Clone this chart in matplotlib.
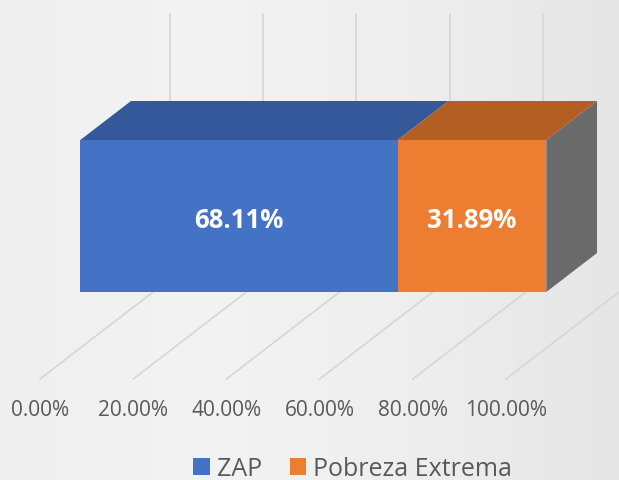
import matplotlib
matplotlib.use("Agg")
import matplotlib.pyplot as plt
import numpy as np
from matplotlib.patches import Polygon, Patch
from matplotlib.colors import LinearSegmentedColormap

# ---- data ----
series = ["ZAP", "Pobreza Extrema"]
values = [68.11, 31.89]
value_labels = ["68.11%", "31.89%"]
tick_values = [0, 20, 40, 60, 80, 100]
tick_labels = ["0.00%", "20.00%", "40.00%", "60.00%", "80.00%", "100.00%"]

# ---- style ----
front_colors = ["#4472C4", "#ED7D31"]
top_colors = ["#34589A", "#B35E22"]
side_color = "#6A6A6A"
grid_color = "#D6D6D6"
text_color = "#595959"
FONT = "Open Sans"

PX = 4.66            # pixels per percent (front plane)
DX = 130 / PX        # full depth offset in x (percent units)
DY = 100             # full depth offset in y (pixel units)
F0, F1 = 0.31, 0.70  # bar depth range (fraction of full depth)
ELEV = 56            # bar bottom above floor (px)
H = 152              # bar height (px)
WALL = 265           # back wall height (px)

fig = plt.figure(figsize=(6.19, 4.81), dpi=100)
ax = fig.add_axes([0, 0, 1, 1])
ax.set_xlim(-40 / PX, (619 - 40) / PX)
ax.set_ylim(380 - 481, 380)
ax.axis("off")

# background
cmap = LinearSegmentedColormap.from_list("bg", ["#EFEFEF", "#F3F3F3", "#EEEEEE", "#E6E6E6"])
grad = np.tile(np.linspace(0, 1, 256), (64, 1))
ax.imshow(grad, cmap=cmap, aspect="auto", extent=(*ax.get_xlim(), *ax.get_ylim()), zorder=0)


def proj(v, d, h):
    return (v + d * DX, d * DY + h)


# gridlines: floor and back wall
for t in tick_values:
    p0, p1 = proj(t, 0, 0), proj(t, 1, 0)
    ax.plot([p0[0], p1[0]], [p0[1], p1[1]], color=grid_color, lw=1.2, zorder=1)
    q0, q1 = proj(t, 1, 0), proj(t, 1, WALL)
    ax.plot([q0[0], q1[0]], [q0[1], q1[1]], color=grid_color, lw=1.2, zorder=1)

# bars
start = 0.0
for i, v in enumerate(values):
    s, e = start, start + v
    front = [proj(s, F0, ELEV), proj(e, F0, ELEV), proj(e, F0, ELEV + H), proj(s, F0, ELEV + H)]
    top = [proj(s, F0, ELEV + H), proj(e, F0, ELEV + H), proj(e, F1, ELEV + H), proj(s, F1, ELEV + H)]
    ax.add_patch(Polygon(front, closed=True, fc=front_colors[i], ec="none", zorder=3))
    ax.add_patch(Polygon(top, closed=True, fc=top_colors[i], ec="none", zorder=3))
    cx, cy = proj((s + e) / 2, F0, ELEV + H / 2 - 4)
    ax.text(cx, cy, value_labels[i], color="white", fontsize=18.5, fontweight="bold",
            family=FONT, ha="center", va="center", zorder=5)
    start = e

side = [proj(start, F0, ELEV), proj(start, F1, ELEV), proj(start, F1, ELEV + H), proj(start, F0, ELEV + H)]
ax.add_patch(Polygon(side, closed=True, fc=side_color, ec="none", zorder=3))

# tick labels
for t, lab in zip(tick_values, tick_labels):
    x, y = proj(t, 0, -31)
    ax.text(x, y, lab, color=text_color, fontsize=15, family=FONT, ha="center", va="center", zorder=5)

# legend
handles = [Patch(fc=c, ec="none") for c in front_colors]
leg = fig.legend(handles, series, loc="center", bbox_to_anchor=(0.57, 0.024), ncol=2,
                 frameon=False, prop={"family": FONT, "size": 18},
                 handlelength=0.65, handleheight=0.65, handletextpad=0.3, columnspacing=1.1)
for txt in leg.get_texts():
    txt.set_color(text_color)

fig.savefig("out.png", dpi=100)
